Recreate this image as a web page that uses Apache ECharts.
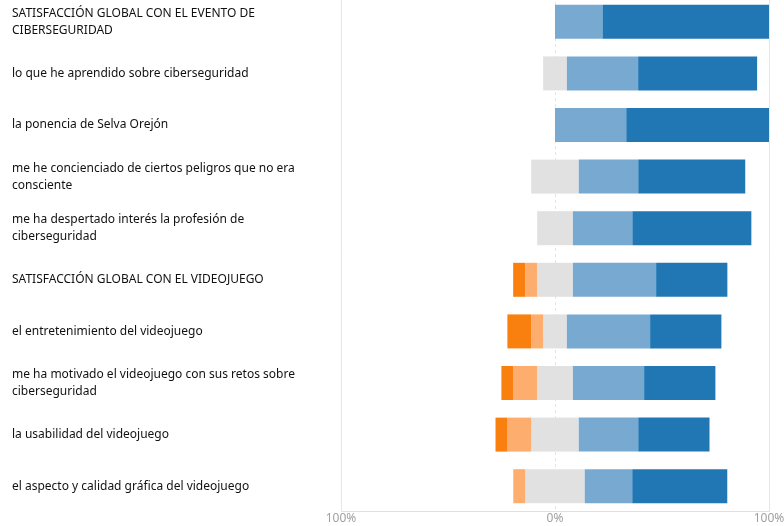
<!DOCTYPE html>
<html>
<head>
<meta charset="utf-8">
<script src="https://cdn.jsdelivr.net/npm/echarts@6/dist/echarts.min.js"></script>
<style>
  html, body { margin: 0; padding: 0; background: #fff; }
  #chart { width: 784px; height: 526px; }
</style>
</head>
<body>
<div id="chart"></div>
<script>
var categories = [
  'SATISFACCIÓN GLOBAL CON EL EVENTO DE\nCIBERSEGURIDAD',
  'lo que he aprendido sobre ciberseguridad',
  'la ponencia de Selva Orejón',
  'me he concienciado de ciertos peligros que no era\nconsciente',
  'me ha despertado interés la profesión de\nciberseguridad',
  'SATISFACCIÓN GLOBAL CON EL VIDEOJUEGO',
  'el entretenimiento del videojuego',
  'me ha motivado el videojuego con sus retos sobre\nciberseguridad',
  'la usabilidad del videojuego',
  'el aspecto y calidad gráfica del videojuego'
];
// percentages per response level
var muyMal   = [0, 0, 0, 0, 0, 5.6, 11.1, 5.6, 5.6, 0];
var mal      = [0, 0, 0, 0, 0, 5.6, 5.6, 11.1, 11.1, 5.6];
var neutral  = [0, 11.1, 0, 22.2, 16.7, 16.7, 11.1, 16.7, 22.2, 27.8];
var bien     = [22.2, 33.3, 33.3, 27.8, 27.8, 38.9, 38.9, 33.3, 27.8, 22.2];
var muyBien  = [77.8, 55.6, 66.7, 50.0, 55.6, 33.3, 33.3, 33.3, 33.3, 44.4];
var xTicks = [-100, 0, 100];

var colors = {
  muyMal: '#f9800f',
  mal: '#fdae6e',
  neutral: '#e1e1e1',
  bien: '#78a9d1',
  muyBien: '#2077b4'
};

function neg(arr) { return arr.map(function (v) { return -v; }); }
function half(arr, sign) { return arr.map(function (v) { return sign * v / 2; }); }

function bar(name, data, color) {
  return {
    name: name, type: 'bar', stack: 'likert', data: data,
    barWidth: 34, itemStyle: { color: color },
    emphasis: { disabled: true }, silent: true
  };
}

var chart = echarts.init(document.getElementById('chart'));
chart.setOption({
  animation: false,
  grid: { left: 341, right: 15, top: -4, bottom: 14, containLabel: false, outerBoundsMode: 'none' },
  xAxis: [{
    type: 'value', min: xTicks[0], max: xTicks[2], interval: 100,
    axisLine: { show: false },
    axisTick: { show: false },
    axisLabel: {
      color: '#a0a0a0', fontFamily: 'Noto Sans', fontSize: 12, margin: 1,
      formatter: function (v) { return Math.abs(v) + '%'; }
    },
    splitLine: { show: true, lineStyle: { color: ['#e6e6e6', 'rgba(0,0,0,0)', '#e6e6e6'], width: 1 } }
  }, {
    type: 'value', min: xTicks[0], max: xTicks[2], interval: 100, position: 'top',
    axisLine: { show: false }, axisTick: { show: false }, axisLabel: { show: false },
    splitLine: { show: true, lineStyle: { color: ['rgba(0,0,0,0)', '#e4e4e4', 'rgba(0,0,0,0)'], type: [3, 3], width: 1 } }
  }],
  yAxis: {
    type: 'category', data: categories, inverse: true,
    axisLine: { show: false },
    axisTick: { show: false },
    splitLine: { show: false },
    axisLabel: {
      align: 'left', margin: 329, color: '#111111',
      fontFamily: 'Noto Sans', fontSize: 12, lineHeight: 17
    }
  },
  graphic: [{
    type: 'line', silent: true,
    shape: { x1: 341, y1: 511.5, x2: 769, y2: 511.5 },
    style: { stroke: '#e0e0e0', lineWidth: 1 }
  }],
  series: [
    bar('neutral-', half(neutral, -1), colors.neutral),
    bar('mal', neg(mal), colors.mal),
    bar('muy mal', neg(muyMal), colors.muyMal),
    bar('neutral+', half(neutral, 1), colors.neutral),
    bar('bien', bien, colors.bien),
    bar('muy bien', muyBien, colors.muyBien)
  ]
});
</script>
</body>
</html>
